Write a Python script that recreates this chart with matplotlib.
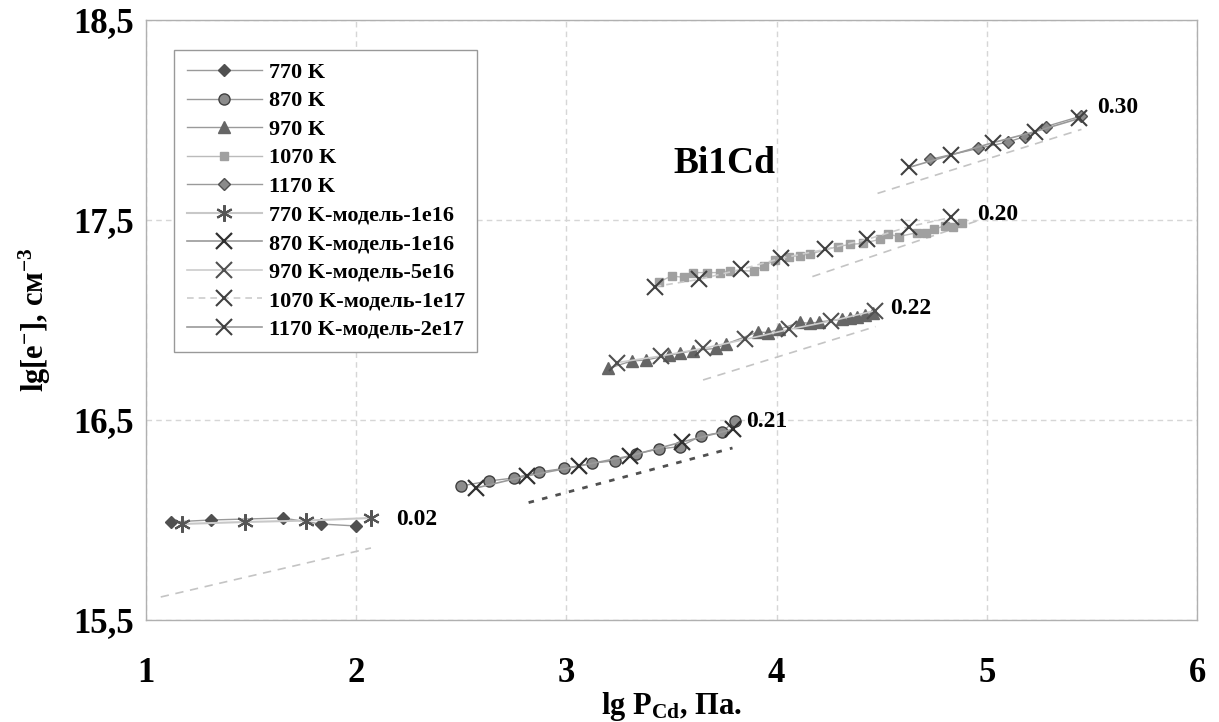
import matplotlib
matplotlib.use("Agg")
import matplotlib.pyplot as plt

plt.rcParams['font.family'] = ['Liberation Serif', 'DejaVu Serif']
plt.rcParams['font.weight'] = 'bold'
plt.rcParams['mathtext.fontset'] = 'custom'
plt.rcParams['mathtext.rm'] = 'Liberation Serif:bold'
plt.rcParams['mathtext.bf'] = 'Liberation Serif:bold'
plt.rcParams['mathtext.it'] = 'Liberation Serif:bold'

# ---- experimental data ----
x770 = [1.12, 1.31, 1.65, 1.83, 2.00]
y770 = [15.99, 16.00, 16.01, 15.98, 15.97]

x870 = [2.50, 2.63, 2.75, 2.87, 2.99, 3.12, 3.23, 3.33, 3.44, 3.54, 3.64, 3.74, 3.80]
y870 = [16.17, 16.195, 16.21, 16.24, 16.258, 16.283, 16.297, 16.33, 16.355, 16.367, 16.42, 16.438, 16.497]

x970 = [3.20, 3.31, 3.38, 3.49, 3.54, 3.60, 3.71, 3.76, 3.91, 3.96, 4.01, 4.11, 4.16,
        4.20, 4.31, 4.35, 4.38, 4.42, 4.46]
y970 = [16.758, 16.795, 16.80, 16.825, 16.833, 16.847, 16.858, 16.88, 16.94, 16.937, 16.953,
        16.988, 16.983, 16.99, 17.003, 17.008, 17.013, 17.025, 17.035]

x1070 = [3.44, 3.50, 3.56, 3.60, 3.67, 3.73, 3.78, 3.89, 3.94, 3.99, 4.06, 4.11, 4.16,
         4.29, 4.35, 4.41, 4.49, 4.53, 4.58, 4.67, 4.71, 4.75, 4.80, 4.84, 4.88]
y1070 = [17.19, 17.22, 17.213, 17.237, 17.237, 17.237, 17.247, 17.245, 17.27, 17.30, 17.317,
         17.322, 17.33, 17.367, 17.378, 17.383, 17.403, 17.43, 17.417, 17.437, 17.437,
         17.453, 17.472, 17.467, 17.483]

x1170 = [4.73, 4.96, 5.10, 5.18, 5.28, 5.45]
y1170 = [17.803, 17.858, 17.89, 17.917, 17.967, 18.02]

# ---- model data ----
xm770 = [1.17, 1.47, 1.76, 2.07]
ym770 = [15.98, 15.99, 15.997, 16.01]

xm870 = [2.57, 2.81, 3.06, 3.30, 3.55, 3.79]
ym870 = [16.16, 16.22, 16.27, 16.32, 16.39, 16.453]

xm970 = [3.24, 3.45, 3.65, 3.85, 4.06, 4.26, 4.47]
ym970 = [16.787, 16.82, 16.858, 16.903, 16.953, 16.995, 17.047]

xm1070 = [3.42, 3.63, 3.83, 4.02, 4.23, 4.43, 4.63, 4.83]
ym1070 = [17.167, 17.203, 17.253, 17.308, 17.353, 17.403, 17.467, 17.513]

xm1170 = [4.63, 4.83, 5.03, 5.23, 5.44]
ym1170 = [17.763, 17.825, 17.887, 17.942, 18.008]

# ---- reference slope lines ----
xt770 = [1.07, 2.07]
yt770 = [15.615, 15.86]
xt870 = [2.82, 3.79]
yt870 = [16.087, 16.36]
xt970 = [3.65, 4.47]
yt970 = [16.70, 16.967]
xt1070 = [4.17, 4.98]
yt1070 = [17.217, 17.505]
xt1170 = [4.48, 5.45]
yt1170 = [17.633, 17.953]

slope_labels = ['0.02', '0.21', '0.22', '0.20', '0.30']
slope_x = [2.19, 3.855, 4.54, 4.955, 5.525]
slope_y = [16.0, 16.49, 17.055, 17.525, 18.06]

labels = ['770 K', '870 K', '970 K', '1070 K', '1170 K',
          '770 K-модель-1e16', '870 K-модель-1e16', '970 K-модель-5e16',
          '1070 K-модель-1e17', '1170 K-модель-2e17']

fig = plt.figure(figsize=(12.19, 7.22), dpi=100)
ax = fig.add_axes([0.1198, 0.1413, 0.8622, 0.831])

lc = '#9a9a9a'
ax.plot(x770, y770, color=lc, lw=1, marker='D', ms=6, mfc='#505050', mec='#505050', label=labels[0], zorder=3)
ax.plot(x870, y870, color=lc, lw=1, marker='o', ms=8, mfc='#8c8c8c', mec='#404040', mew=1, label=labels[1], zorder=3)
ax.plot(x970, y970, color=lc, lw=1, marker='^', ms=8, mfc='#666666', mec='#666666', label=labels[2], zorder=3)
ax.plot(x1070, y1070, color='#bbbbbb', lw=1, marker='s', ms=6, mfc='#a0a0a0', mec='#a0a0a0', label=labels[3], zorder=3)
ax.plot(x1170, y1170, color=lc, lw=1, marker='D', ms=6, mfc='#8a8a8a', mec='#505050', mew=1, label=labels[4], zorder=3)

ax.plot(xm770, ym770, color='#c8c8c8', lw=1.5, marker=(6, 2, 0), ms=12, mec='#555555', mew=1.5, label=labels[5], zorder=4)
ax.plot(xm870, ym870, color='#9a9a9a', lw=1.2, marker='x', ms=11, mec='#303030', mew=1.6, label=labels[6], zorder=4)
ax.plot(xm970, ym970, color='#cccccc', lw=1.2, marker='x', ms=11, mec='#505050', mew=1.5, label=labels[7], zorder=4)
ax.plot(xm1070, ym1070, color='#cccccc', lw=1.2, ls=(0, (4, 3)), marker='x', ms=11, mec='#404040', mew=1.5, label=labels[8], zorder=4)
ax.plot(xm1170, ym1170, color='#9a9a9a', lw=1.2, marker='x', ms=11, mec='#404040', mew=1.5, label=labels[9], zorder=4)

dash_c = '#c4c4c4'
ax.plot(xt770, yt770, color=dash_c, lw=1.2, ls=(0, (5, 4)), zorder=2)
ax.plot(xt870, yt870, color='#505050', lw=2, ls=(0, (2, 3)), zorder=2)
ax.plot(xt970, yt970, color=dash_c, lw=1.2, ls=(0, (5, 4)), zorder=2)
ax.plot(xt1070, yt1070, color=dash_c, lw=1.2, ls=(0, (5, 4)), zorder=2)
ax.plot(xt1170, yt1170, color=dash_c, lw=1.2, ls=(0, (5, 4)), zorder=2)

for t, tx, ty in zip(slope_labels, slope_x, slope_y):
    ax.text(tx, ty, t, fontsize=17, fontweight='bold', ha='left', va='center', zorder=5)

ax.text(3.75, 17.78, 'Bi1Cd', fontsize=27, fontweight='bold', ha='center', va='center')

ax.set_xlim(1, 6)
ax.set_ylim(15.5, 18.5)
ax.set_xticks([1, 2, 3, 4, 5, 6])
ax.set_yticks([15.5, 16.5, 17.5, 18.5])
ax.set_yticklabels(['15,5', '16,5', '17,5', '18,5'])
ax.tick_params(axis='both', length=0, labelsize=25)
ax.tick_params(axis='x', pad=27)
ax.tick_params(axis='y', pad=9)
for lab in ax.get_xticklabels() + ax.get_yticklabels():
    lab.set_fontweight('bold')

ax.grid(True, color='#d6d6d6', lw=1, ls=(0, (4, 3)))
for s in ax.spines.values():
    s.set_color('#b0b0b0')
    s.set_linewidth(1)

ax.set_xlabel('lg P$_{\\mathrm{Cd}}$, Па.', fontsize=22, fontweight='bold', labelpad=0)
ax.set_ylabel('lg[e$^{\\mathrm{-}}$], см$^{\\mathrm{-3}}$', fontsize=22, fontweight='bold', labelpad=14)

leg = ax.legend(loc='upper left', bbox_to_anchor=(0.027, 0.95), borderaxespad=0,
                fancybox=False, edgecolor='#999999', framealpha=1,
                prop={'family': 'Liberation Serif', 'weight': 'bold', 'size': 16},
                handlelength=3.4, handletextpad=0.3, labelspacing=0.36,
                borderpad=0.55)
leg.get_frame().set_linewidth(1)

fig.savefig('out.png', dpi=100)
